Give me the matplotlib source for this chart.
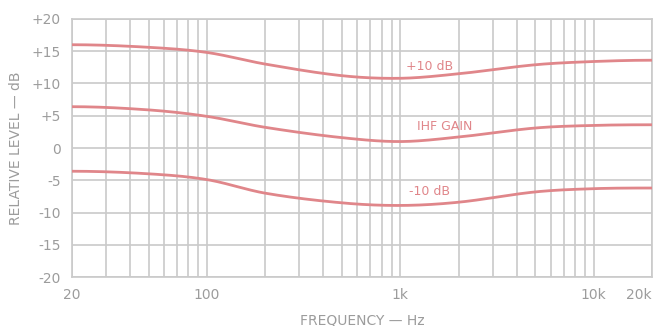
import numpy as np
import matplotlib
matplotlib.use("Agg")
import matplotlib.pyplot as plt
from matplotlib.ticker import FixedLocator, NullFormatter

freq = [20, 50, 100, 200, 500, 1000, 2000, 5000, 10000, 20000]
plus10 = [16.0, 15.6, 14.8, 13.0, 11.2, 10.8, 11.5, 12.9, 13.4, 13.6]
ihf = [6.4, 5.9, 4.9, 3.2, 1.6, 1.0, 1.7, 3.1, 3.5, 3.6]
minus10 = [-3.6, -4.0, -4.9, -7.0, -8.5, -8.9, -8.4, -6.8, -6.3, -6.2]

xtick_vals = [20, 100, 1000, 10000, 20000]
xtick_labels = ["20", "100", "1k", "10k", "20k"]
ytick_vals = [20, 15, 10, 5, 0, -5, -10, -15, -20]
ytick_labels = ["+20", "+15", "+10", "+5", "0", "-5", "-10", "-15", "-20"]

fig = plt.figure(figsize=(6.61, 3.26), dpi=100)
ax = fig.add_axes([0.109, 0.150, 0.877, 0.792])

txt = "#9c9c9c"
curve = "#e0868a"
grid = "#cacaca"

lf = np.log10(freq)
xs = np.linspace(lf[0], lf[-1], 500)

def smooth(vals):
    px = np.array(lf); py = np.array(vals, dtype=float)
    n = len(px)
    m = np.zeros(n)
    for i in range(n):
        if i == 0:
            m[i] = 0.0
        elif i == n - 1:
            m[i] = 0.0
        else:
            m[i] = (py[i + 1] - py[i - 1]) / (px[i + 1] - px[i - 1])
    out = np.empty_like(xs)
    for k, x in enumerate(xs):
        i = min(max(np.searchsorted(px, x) - 1, 0), n - 2)
        h = px[i + 1] - px[i]
        t = (x - px[i]) / h
        h00 = 2*t**3 - 3*t**2 + 1; h10 = t**3 - 2*t**2 + t
        h01 = -2*t**3 + 3*t**2; h11 = t**3 - t**2
        out[k] = h00*py[i] + h10*h*m[i] + h01*py[i + 1] + h11*h*m[i + 1]
    return out

for vals in (plus10, ihf, minus10):
    ax.plot(10**xs, smooth(vals), color=curve, lw=2.0, solid_capstyle="round", zorder=3)

ax.set_xscale("log")
ax.set_xlim(20, 20000)
ax.set_ylim(-20, 20)

minor = [v * d for d in (10, 100, 1000) for v in range(2, 10) if 20 <= v * d <= 20000] + [20000]
ax.xaxis.set_major_locator(FixedLocator(xtick_vals))
ax.xaxis.set_minor_locator(FixedLocator(minor))
ax.xaxis.set_minor_formatter(NullFormatter())
ax.set_xticks(xtick_vals)
ax.set_xticklabels(xtick_labels)
ax.set_yticks(ytick_vals)
ax.set_yticklabels(ytick_labels)
ax.get_xticklabels()[-1].set_horizontalalignment("right")

ax.grid(True, which="both", axis="x", color=grid, lw=1.2)
ax.grid(True, which="major", axis="y", color=grid, lw=1.2)
for s in ax.spines.values():
    s.set_color(grid)
    s.set_linewidth(1.2)
ax.tick_params(which="both", length=0, colors=txt, labelsize=10, pad=8)

ax.set_xlabel("FREQUENCY — Hz", color=txt, fontsize=10, labelpad=8)
ax.set_ylabel("RELATIVE LEVEL — dB", color=txt, fontsize=10, labelpad=6)

ax.text(1420, 12.7, "+10 dB", color=curve, fontsize=9, ha="center", va="center")
ax.text(1700, 3.4, "IHF GAIN", color=curve, fontsize=9, ha="center", va="center")
ax.text(1420, -6.8, "-10 dB", color=curve, fontsize=9, ha="center", va="center")

fig.savefig("out.png", dpi=100)
